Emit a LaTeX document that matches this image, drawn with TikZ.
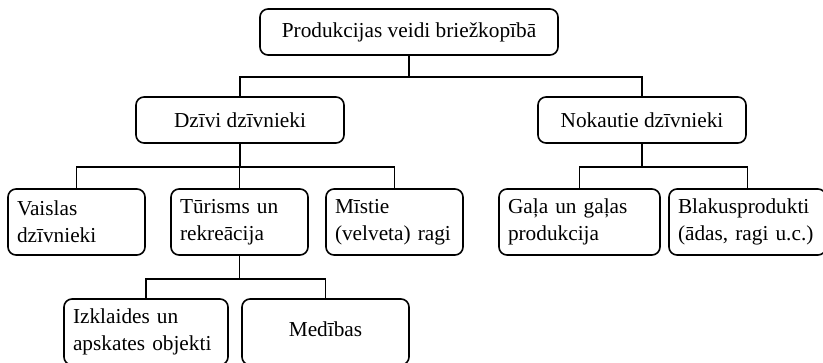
\documentclass[tikz,border=0pt]{standalone}
\usepackage{fontspec}
\setmainfont{Liberation Serif}
\begin{document}
\begin{tikzpicture}[x=1pt,y=-1pt,
  box/.style={draw, line width=1.6pt, rounded corners=8pt, inner ysep=2pt,
    font=\fontsize{21.3}{27}\selectfont},
  lbox/.style={box, inner xsep=9pt, align=left, minimum height=66pt},
  link/.style={line width=1.6pt}]
\useasboundingbox (0,0) rectangle (823,362);

% top level
\node[box, minimum width=298pt, minimum height=46pt] (top) at (409,32) {Produkcijas veidi briežkopībā};

% second level
\node[box, minimum width=208pt, minimum height=46pt] (dz)  at (240,120) {Dzīvi dzīvnieki};
\node[box, minimum width=208pt, minimum height=46pt] (nok) at (642,120) {Nokautie dzīvnieki};

% third level
\node[lbox, text width=119pt] (vais) at (76.5,222)  {Vaislas\\dzīvnieki};
\node[lbox, text width=119pt] (tur)  at (239.5,222) {Tūrisms un\\rekreācija};
\node[lbox, text width=119pt] (mist) at (394.5,222) {Mīstie\\(velveta) ragi};
\node[lbox, text width=143pt] (gala) at (579.5,222) {Gaļa un gaļas\\produkcija};
\node[lbox, text width=139pt] (blak) at (747.5,222) {Blakusprodukti\\(ādas, ragi u.c.)};

% fourth level
\node[lbox, text width=146pt] (izk) at (146,332) {Izklaides un\\apskates objekti};
\node[box, minimum width=167pt, minimum height=66pt] (med) at (325.5,332) {\raisebox{6pt}{Medības}};

% connectors
\draw[link] (top.south) -- ++(0,21) -| (dz.north);
\draw[link] (top.south) -- ++(0,21) -| (nok.north);
\draw[link] (dz.south) -- ++(0,23) -| (vais.north);
\draw[link] (dz.south) -- ++(0,23) -| (tur.north);
\draw[link] (dz.south) -- ++(0,23) -| (mist.north);
\draw[link] (nok.south) -- ++(0,23) -| (gala.north);
\draw[link] (nok.south) -- ++(0,23) -| (blak.north);
\draw[link] (tur.south) -- ++(0,23) -| (izk.north);
\draw[link] (tur.south) -- ++(0,23) -| (med.north);
\end{tikzpicture}
\end{document}
